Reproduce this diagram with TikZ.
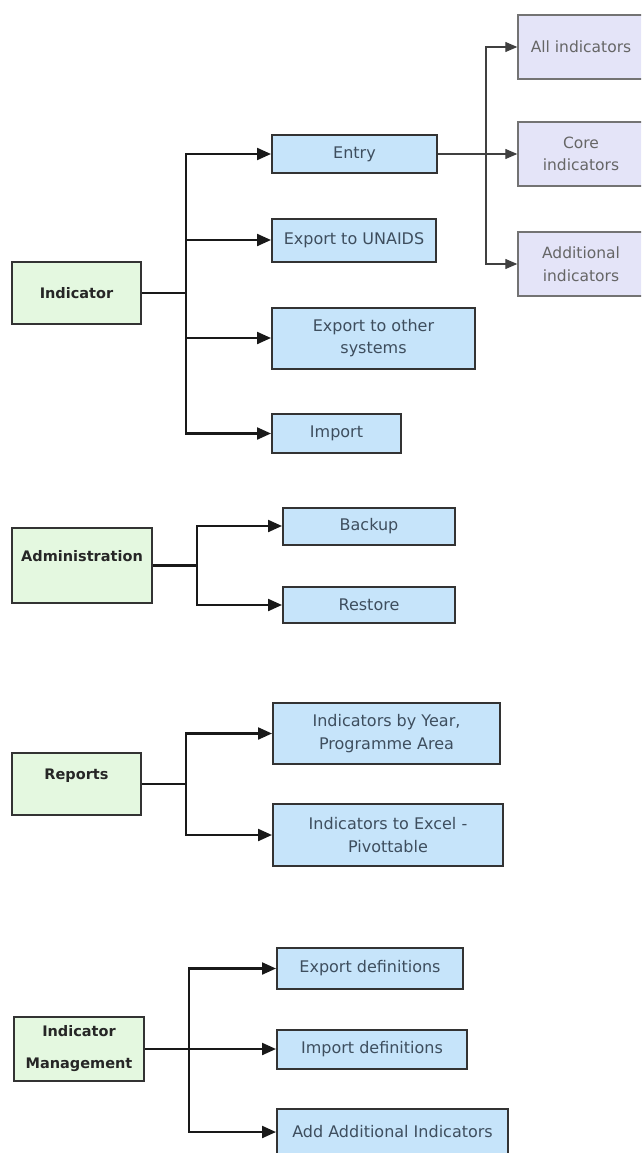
\documentclass[tikz,border=0pt]{standalone}
\usepackage{fontspec}
\setmainfont{DejaVu Sans}
\usetikzlibrary{arrows.meta}

\definecolor{grnfill}{HTML}{E4F8E0}
\definecolor{bluefill}{HTML}{C6E4FA}
\definecolor{purpfill}{HTML}{E4E4F8}
\definecolor{bluetext}{HTML}{3E4E5E}

\begin{document}
\begin{tikzpicture}
  [x=1pt,y=-1pt,
   every node/.style={rectangle, inner sep=0pt, align=center, draw=black!80, line width=2pt},
   topbox/.style={fill=grnfill, text=black!85, font=\fontsize{14.5}{20}\selectfont\bfseries},
   subbox/.style={fill=bluefill, text=bluetext, font=\fontsize{16}{22.5}\selectfont},
   leafbox/.style={fill=purpfill, text=black!60, draw=black!55, line width=1.4pt, font=\fontsize{15.5}{22.5}\selectfont},
   trunk/.style={line width=2.2pt, black!90},
   link/.style={trunk, -{Triangle[length=14pt,width=12pt]}},
   leafline/.style={line width=1.2pt, black!75},
   leaflink/.style={leafline, -{Triangle[length=12pt,width=10pt]}}]
  \useasboundingbox (0,0) rectangle (641,1153);
  \clip (0,0) rectangle (641,1153);

  % Indicator
  \node[topbox, minimum width=129pt, minimum height=62pt] (ind) at (76.5,293) {Indicator};
  \node[subbox, minimum width=165pt, minimum height=38pt] (entry) at (354.5,154) {Entry};
  \node[subbox, minimum width=164pt, minimum height=43pt] (unaids) at (354,240) {Export to UNAIDS};
  \node[subbox, minimum width=203pt, minimum height=61pt] (other) at (373.5,338) {Export to other\\systems};
  \node[subbox, minimum width=129pt, minimum height=39pt] (imp) at (336.5,433.5) {Import};
  \node[leafbox, minimum width=126pt, minimum height=64pt] (all) at (581,47) {All indicators};
  \node[leafbox, minimum width=126pt, minimum height=64pt] (core) at (581,154) {Core\\indicators};
  \node[leafbox, minimum width=126pt, minimum height=64pt] (addl) at (581,264) {Additional\\indicators};

  \coordinate (t1) at (186,293);
  \coordinate (t2) at (486,154);
  \draw[trunk] (ind.east) -- (t1);
  \foreach \n in {entry,unaids,other,imp}
    \draw[link] (t1) |- (\n.west);
  \draw[leafline] (entry.east) -- (t2);
  \foreach \n in {all,core,addl}
    \draw[leaflink] (t2) |- (\n.west);

  % Administration
  \node[topbox, minimum width=140pt, minimum height=75pt] (adm) at (82,565.5) {Administration\\\mbox{}};
  \node[subbox, minimum width=172pt, minimum height=37pt] (bak) at (369,526) {Backup};
  \node[subbox, minimum width=172pt, minimum height=36pt] (rst) at (369,605) {Restore};

  \coordinate (t3) at (197,565.5);
  \draw[trunk] (adm.east) -- (t3);
  \foreach \n in {bak,rst}
    \draw[link] (t3) |- (\n.west);

  % Reports
  \node[topbox, minimum width=129pt, minimum height=62pt] (rep) at (76.5,784) {Reports\\\mbox{}};
  \node[subbox, minimum width=227pt, minimum height=61pt] (year) at (386.5,733.5) {Indicators by Year,\\Programme Area};
  \node[subbox, minimum width=230pt, minimum height=62pt] (excel) at (388,835) {Indicators to Excel -\\Pivottable};

  \coordinate (t4) at (186,784);
  \draw[trunk] (rep.east) -- (t4);
  \foreach \n in {year,excel}
    \draw[link] (t4) |- (\n.west);

  % Indicator Management
  \node[topbox, minimum width=130pt, minimum height=64pt] (mgt) at (79,1049) {Indicator\\[12pt]Management};
  \node[subbox, minimum width=186pt, minimum height=41pt] (expd) at (370,968.5) {Export definitions};
  \node[subbox, minimum width=190pt, minimum height=39pt] (impd) at (372,1049) {Import definitions};
  \node[subbox, minimum width=231pt, minimum height=46pt] (addi) at (392.5,1132) {Add Additional Indicators};

  \coordinate (t5) at (189,1049);
  \draw[trunk] (mgt.east) -- (t5);
  \foreach \n in {expd,impd,addi}
    \draw[link] (t5) |- (\n.west);
\end{tikzpicture}
\end{document}
